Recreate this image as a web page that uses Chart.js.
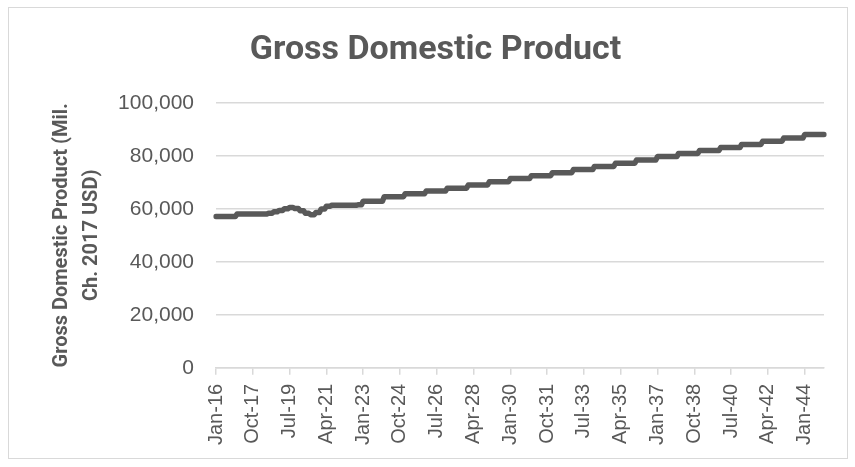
<!DOCTYPE html>
<html>
<head>
<meta charset="utf-8">
<script src="https://cdn.jsdelivr.net/npm/chart.js@4/dist/chart.umd.min.js"></script>
<style>
  html, body { margin: 0; padding: 0; background: #ffffff; }
  #frame { position: absolute; left: 8px; top: 7px; width: 840px; height: 452px; border: 1px solid #d9d9d9; box-sizing: border-box; }
  #wrap { position: absolute; left: 0; top: 0; width: 855px; height: 467px; }
</style>
</head>
<body>
<div id="frame"></div>
<div id="wrap"><canvas id="gdp" width="855" height="467"></canvas></div>
<script>
// Monthly categories, Jan-2016 through Dec-2044
const monthNames = ['Jan','Feb','Mar','Apr','May','Jun','Jul','Aug','Sep','Oct','Nov','Dec'];
const firstYear = 2016;
const lastYear = 2044;

// Historical GDP, quarterly (Mil. Ch. 2017 USD), 2016 Q1 - 2022 Q4
const quarterlyGdp = [
  57100, 57100, 57100, 57100,
  58000, 58000, 58000, 58000,
  58000, 58000, 58300, 58900,
  59400, 60000, 60500, 60100,
  59300, 58300, 57800, 58600,
  59900, 61000, 61300, 61300,
  61300, 61300, 61300, 61500
];

// Projected GDP, annual (Mil. Ch. 2017 USD), 2023 - 2044
const annualYears = [2023, 2024, 2025, 2026, 2027, 2028, 2029, 2030, 2031, 2032, 2033,
                     2034, 2035, 2036, 2037, 2038, 2039, 2040, 2041, 2042, 2043, 2044];
const annualGdp = [62900, 64600, 65700, 66700, 67800, 69000, 70200, 71400, 72500, 73600, 74800,
                   76000, 77200, 78400, 79700, 80900, 82000, 83100, 84300, 85500, 86700, 88000];

// Y-axis scale
const yMin = 0;
const yMax = 100000;
const yStep = 20000;
const labelEvery = 21; // a date label every 21 months

// Build the monthly table: each quarter holds for 3 months, each projected year for 12
const labels = [];
for (let y = firstYear; y <= lastYear; y++) {
  for (let m = 0; m < 12; m++) labels.push(monthNames[m] + '-' + String(y).slice(2));
}
const monthly = [];
quarterlyGdp.forEach(v => { monthly.push(v, v, v); });
annualGdp.forEach(v => { for (let k = 0; k < 12; k++) monthly.push(v); });

const grey = '#595959';
const gridGrey = '#d9d9d9';

new Chart(document.getElementById('gdp'), {
  type: 'line',
  data: {
    labels: labels,
    datasets: [{
      data: monthly,
      borderColor: grey,
      borderWidth: 5.5,
      borderCapStyle: 'round',
      borderJoinStyle: 'round',
      pointRadius: 0,
      tension: 0,
      fill: false
    }]
  },
  options: {
    responsive: false,
    animation: false,
    layout: { padding: { left: 47, right: 31, top: 14, bottom: 13 } },
    plugins: {
      legend: { display: false },
      tooltip: { enabled: false },
      title: {
        display: true,
        text: 'Gross Domestic Product',
        color: grey,
        font: { family: 'Roboto', size: 34, weight: 'bold' },
        padding: { top: 16, bottom: 32 }
      }
    },
    scales: {
      x: {
        type: 'category',
        offset: false,
        border: { color: gridGrey, width: 1.5 },
        grid: { display: true, drawOnChartArea: false, color: gridGrey, lineWidth: 1.5, tickLength: 7 },
        ticks: {
          autoSkip: false,
          maxRotation: 90,
          minRotation: 90,
          color: grey,
          padding: 9,
          font: { family: 'Liberation Sans', size: 20 },
          callback: function (value, index) {
            return index % labelEvery === 0 ? labels[index] : null;
          }
        }
      },
      y: {
        min: yMin,
        max: yMax,
        border: { display: false },
        grid: { color: gridGrey, lineWidth: 1.5, drawTicks: false },
        afterFit: scale => { scale.width = 169; },
        ticks: {
          stepSize: yStep,
          color: grey,
          padding: 22,
          font: { family: 'Liberation Sans', size: 21 },
          callback: v => v.toLocaleString('en-US')
        },
        title: {
          display: true,
          text: ['Gross Domestic Product (Mil.', 'Ch. 2017 USD)'],
          color: grey,
          font: { family: 'Roboto', size: 20, weight: 'bold', lineHeight: 1.5 },
          padding: { top: 0, bottom: 11 }
        }
      }
    }
  }
});
</script>
</body>
</html>
